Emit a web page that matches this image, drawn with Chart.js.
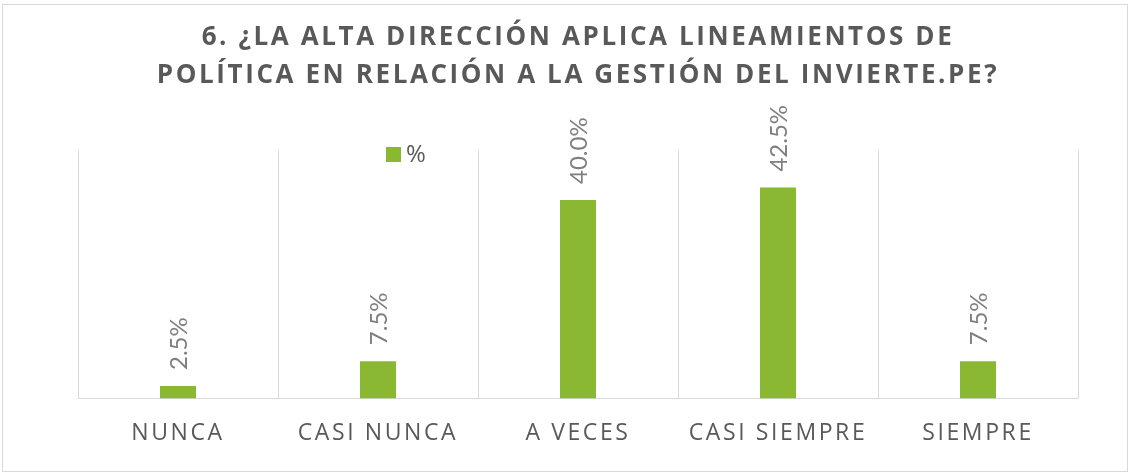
<!DOCTYPE html>
<html>
<head>
<meta charset="utf-8">
<script src="https://cdn.jsdelivr.net/npm/chart.js@4"></script>
<style>
    html, body { margin: 0; padding: 0; background: #fff; }
    #wrap { position: relative; width: 1130px; height: 473px; }
    #frame { position: absolute; left: 2px; top: 4px; width: 1124px; height: 466px; border: 1px solid #d9d9d9; pointer-events: none; }
    canvas { position: absolute; left: 0; top: 0; }
</style>
</head>
<body>
<div id="wrap">
    <canvas id="chart" width="1130" height="473"></canvas>
    <div id="frame"></div>
</div>
<script>
// DATA
const categories = ['NUNCA', 'CASI NUNCA', 'A VECES', 'CASI SIEMPRE', 'SIEMPRE'];
const percentValues = [2.5, 7.5, 40.0, 42.5, 7.5];
const seriesName = '%';
const titleLines = ['6. ¿LA ALTA DIRECCIÓN APLICA LINEAMIENTOS DE', 'POLÍTICA EN RELACIÓN A LA GESTIÓN DEL INVIERTE.PE?'];

const barColor = '#8ab833';

// Draws the rotated value labels, the legend, and handles letter spacing for the texts
const decorPlugin = {
    id: 'decor',
    beforeDraw(chart) {
        chart.ctx.letterSpacing = '2.6px'; // title
    },
    afterDatasetsDraw(chart) {
        const ctx = chart.ctx;
        ctx.letterSpacing = '0px';
        const meta = chart.getDatasetMeta(0);
        ctx.save();
        ctx.fillStyle = '#7f7f7f';
        ctx.font = '24px Lato';
        meta.data.forEach((bar, i) => {
            const value = chart.data.datasets[0].data[i];
            ctx.save();
            ctx.translate(bar.x, bar.y - 16);
            ctx.rotate(-Math.PI / 2);
            ctx.textAlign = 'left';
            ctx.textBaseline = 'middle';
            ctx.fillText(value.toFixed(1) + '%', 0, 1);
            ctx.restore();
        });

        // legend
        const ds = chart.data.datasets[0];
        ctx.fillStyle = ds.backgroundColor;
        ctx.fillRect(386, 147, 15, 15);
        ctx.fillStyle = '#595959';
        ctx.font = '24px "Open Sans"';
        ctx.textAlign = 'left';
        ctx.textBaseline = 'middle';
        ctx.fillText(ds.label, 406, 155);
        ctx.restore();

        ctx.letterSpacing = '4.8px'; // category labels
    },
    afterDraw(chart) {
        chart.ctx.letterSpacing = '0px';
    }
};

const ctx = document.getElementById('chart').getContext('2d');
const chart = new Chart(ctx, {
    type: 'bar',
    data: {
        labels: categories,
        datasets: [{
            label: seriesName,
            data: percentValues,
            backgroundColor: barColor,
            categoryPercentage: 1,
            barPercentage: 0.18
        }]
    },
    options: {
        responsive: false,
        animation: false,
        layout: { padding: { left: 78, right: 52, top: 0, bottom: 5 } },
        plugins: {
            legend: { display: false },
            tooltip: { enabled: false },
            title: {
                display: true,
                text: titleLines,
                color: '#595959',
                font: { family: 'Open Sans', size: 26, weight: 'bold', lineHeight: 1.45 },
                padding: { top: 19, bottom: 56 }
            }
        },
        scales: {
            x: {
                z: 1,
                grid: { display: true, offset: true, color: '#d9d9d9', lineWidth: 1, drawTicks: false },
                border: { display: true, color: '#d9d9d9', width: 1 },
                ticks: {
                    color: '#595959',
                    font: { family: 'Open Sans', size: 23 },
                    padding: 21,
                    maxRotation: 0,
                    autoSkip: false
                }
            },
            y: {
                display: false,
                min: 0,
                max: 50
            }
        }
    },
    plugins: [decorPlugin]
});
</script>
</body>
</html>
